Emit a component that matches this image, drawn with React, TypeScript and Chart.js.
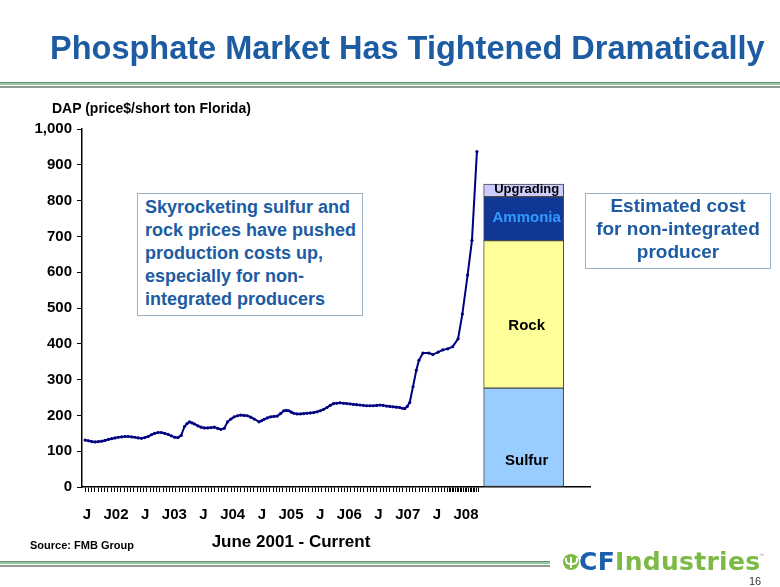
import React, { useEffect, useRef } from "react";
import { Chart, registerables } from "chart.js";

Chart.register(...registerables);

// ---- data ----
// months after July 2001 (J = July, J0x = January of year 200x)
const priceMonths = [
  -0.35, 0.34, 1.02, 1.7, 2.38, 3.06, 3.74, 4.43, 5.11, 5.79,
  6.47, 7.15, 7.83, 8.51, 9.2, 9.88, 10.56, 11.24, 11.92, 12.6,
  13.28, 13.96, 14.64, 15.32, 16.01, 16.69, 17.37, 18.05, 18.73, 19.41,
  20.09, 20.6, 21.11, 21.62, 22.14, 22.82, 23.5, 24.18, 24.86, 25.54,
  26.22, 26.9, 27.58, 28.27, 28.95, 29.63, 30.31, 30.99, 31.67, 32.35,
  33.03, 33.71, 34.4, 35.42, 35.93, 36.44, 37.12, 37.8, 38.48, 39.16,
  39.84, 40.53, 41.04, 41.55, 42.06, 42.57, 43.25, 43.93, 44.61, 45.29,
  45.97, 46.66, 47.34, 48.02, 48.7, 49.38, 50.06, 50.74, 51.42, 52.1,
  52.78, 53.47, 54.15, 54.83, 55.51, 56.19, 56.87, 57.55, 58.23, 58.92,
  59.6, 60.28, 60.96, 61.64, 62.32, 63.0, 63.68, 64.36, 64.88, 65.39,
  65.9, 66.41, 67.09, 67.77, 68.31, 69.13, 70.35, 71.17, 72.27, 73.21,
  74.23, 75.25, 76.36, 77.24, 78.32, 79.22, 80.24,
];

const dapPrice = [
  131, 129, 127, 126, 127, 128, 130, 133, 135, 137,
  139, 140, 141, 141, 140, 139, 137, 136, 138, 141,
  146, 150, 152, 152, 150, 147, 143, 139, 138, 144,
  169, 177, 182, 179, 176, 171, 167, 165, 165, 166,
  167, 164, 161, 164, 182, 190, 196, 199, 201, 200,
  199, 195, 190, 182, 185, 189, 193, 196, 197, 198,
  205, 213, 214, 213, 209, 206, 204, 204, 205, 206,
  207, 208, 210, 213, 217, 222, 228, 233, 234, 235,
  234, 233, 232, 231, 230, 229, 228, 227, 227, 227,
  228, 229, 228, 226, 225, 224, 223, 222, 220, 219,
  225, 236, 280, 326, 354, 374, 374, 370, 377, 383,
  386, 392, 414, 483, 592, 689, 937,
];

const xLabelMonths = [0, 6, 12, 18, 24, 30, 36, 42, 48, 54, 60, 66, 72, 78];
const xLabels = ["J", "J02", "J", "J03", "J", "J04", "J", "J05", "J", "J06", "J", "J07", "J", "J08"];

const yTickValues = [0, 100, 200, 300, 400, 500, 600, 700, 800, 900, 1000];

const costCategories = ["Sulfur", "Rock", "Ammonia", "Upgrading"];
const costValues = [276, 412, 123, 35];
const estimateMonth = 89.85; // x slot of the "estimated cost" bar

// ---- styles ----
const costColors = ["#99CCFF", "#FFFF99", "#0F3896", "#CCCCFF"];
const costLabelColors = ["#000000", "#000000", "#3399FF", "#000000"];
const costLabelSizes = [15, 15, 15, 13];
const costLabelFrac = [0.26, 0.42, 0.52, 0.55];

const FONT = "'Liberation Sans', Arial, sans-serif";
const BLUE = "#1D5CA2";

const barLabelPlugin = {
  id: "barLabels",
  afterDatasetsDraw(chart: any) {
    const ctx = chart.ctx;
    chart.data.datasets.forEach((ds: any, i: number) => {
      if (ds.type !== "bar") return;
      const meta = chart.getDatasetMeta(i);
      const el: any = meta.data[0];
      if (!el) return;
      const k = ds.costIndex;
      const y = el.base + (el.y - el.base) * costLabelFrac[k];
      ctx.save();
      ctx.font = `bold ${costLabelSizes[k]}px ${FONT}`;
      ctx.fillStyle = costLabelColors[k];
      ctx.textAlign = "center";
      ctx.textBaseline = "middle";
      ctx.fillText(ds.label, el.x + 3, y);
      ctx.restore();
    });
  },
};

function ChartCanvas() {
  const ref = useRef<HTMLCanvasElement | null>(null);
  useEffect(() => {
    if (!ref.current) return;
    let acc = 0;
    const barSets = costValues.map((v, k) => {
      const start = acc;
      acc += v;
      return {
        type: "bar" as const,
        label: costCategories[k],
        costIndex: k,
        data: [{ x: estimateMonth, y: [start, acc] }],
        backgroundColor: costColors[k],
        borderColor: "#4a4a4a",
        borderWidth: 1,
        borderSkipped: false,
        barThickness: 80,
        grouped: false,
      };
    });
    const tickVals: number[] = [];
    for (let k = 0; k * (2 / 3) <= 74.01; k++) tickVals.push(k * (2 / 3));
    for (let v = 74 + 1 / 3; v <= 80.4; v += 1 / 3) tickVals.push(v);

    const chart = new Chart(ref.current, {
      type: "line",
      data: {
        datasets: [
          {
            type: "line",
            label: "DAP",
            data: priceMonths.map((m, i) => ({ x: m, y: dapPrice[i] })),
            borderColor: "#000080",
            borderWidth: 2,
            pointRadius: 1.6,
            pointBorderWidth: 0,
            pointBackgroundColor: "#000080",
            tension: 0,
          } as any,
          ...(barSets as any[]),
        ],
      },
      options: {
        responsive: false,
        animation: false,
        events: [],
        layout: { padding: { left: 0, top: 129, right: 190, bottom: 60 } },
        plugins: { legend: { display: false }, tooltip: { enabled: false } },
        scales: {
          x: {
            type: "linear",
            min: -0.6,
            max: 103.1,
            afterBuildTicks: (s: any) => {
              s.ticks = tickVals.map((v) => ({ value: v }));
            },
            afterFit: (s: any) => {
              s.height = 40;
            },
            grid: {
              drawOnChartArea: false,
              drawTicks: true,
              tickLength: 5,
              color: "#000",
              tickColor: "#000",
              lineWidth: 1,
            },
            border: { color: "#000", width: 1.5 },
            ticks: {
              autoSkip: false,
              maxRotation: 0,
              minRotation: 0,
              padding: 14,
              color: "#000",
              font: { family: FONT, size: 15, weight: "bold" },
              callback: (value: any) => {
                const idx = xLabelMonths.findIndex((m) => Math.abs(m - Number(value)) < 0.01);
                return idx >= 0 ? xLabels[idx] : "";
              },
            },
          },
          y: {
            type: "linear",
            min: 0,
            max: 1000,
            afterBuildTicks: (s: any) => {
              s.ticks = yTickValues.map((v) => ({ value: v }));
            },
            afterFit: (s: any) => {
              s.width = 82;
            },
            grid: {
              drawOnChartArea: false,
              drawTicks: true,
              tickLength: 5,
              color: "#000",
              tickColor: "#000",
            },
            border: { color: "#000", width: 1.5 },
            ticks: {
              padding: 5,
              color: "#000",
              font: { family: FONT, size: 15, weight: "bold" },
              callback: (value: any) => Number(value).toLocaleString("en-US"),
            },
          },
        },
      } as any,
      plugins: [barLabelPlugin],
    });
    return () => chart.destroy();
  }, []);
  return (
    <canvas
      ref={ref}
      width={780}
      height={587}
      style={{ position: "absolute", left: 0, top: 0, width: 780, height: 587 }}
    />
  );
}

function Txt(props: {
  x: number;
  base: number;
  size: number;
  text: string;
  color?: string;
  weight?: string;
  align?: "left" | "center";
  width?: number;
  family?: string;
}) {
  const { x, base, size, text, color = "#000", weight = "bold", align = "left", width, family = FONT } = props;
  const top = base - 0.8465 * size;
  const style: React.CSSProperties = {
    position: "absolute",
    top,
    fontFamily: family,
    fontSize: size,
    fontWeight: weight as any,
    lineHeight: 1,
    color,
    whiteSpace: "nowrap",
  };
  if (align === "center") {
    style.left = x - (width || 400) / 2;
    style.width = width || 400;
    style.textAlign = "center";
  } else {
    style.left = x;
  }
  return <div style={style}>{text}</div>;
}

const box1Lines = [
  "Skyrocketing sulfur and",
  "rock prices have pushed",
  "production costs up,",
  "especially for non-",
  "integrated producers",
];
const box2Lines = ["Estimated cost", "for non-integrated", "producer"];

function Rule(props: { top: number; width: number }) {
  const { top, width } = props;
  return (
    <>
      <div style={{ position: "absolute", left: 0, top, width, height: 1, background: "#6E8E78" }} />
      <div style={{ position: "absolute", left: 0, top: top + 1, width, height: 2, background: "#93C9A0" }} />
      <div style={{ position: "absolute", left: 0, top: top + 4, width, height: 2, background: "#8E9E94" }} />
    </>
  );
}

export default function App() {
  return (
    <div
      style={{
        position: "fixed",
        left: 0,
        top: 0,
        width: 780,
        height: 587,
        background: "#fff",
        overflow: "hidden",
      }}
    >
      <ChartCanvas />
      {/* title */}
      <Txt x={50} base={60} size={32.5} text="Phosphate Market Has Tightened Dramatically" color={BLUE} />
      <Rule top={82} width={780} />
      {/* y axis caption */}
      <Txt x={52} base={113} size={14} text="DAP (price$/short ton Florida)" />
      {/* box 1 */}
      <div
        style={{
          position: "absolute",
          left: 137,
          top: 193,
          width: 224,
          height: 121,
          border: "1px solid #9DB2C6",
          background: "#fff",
        }}
      />
      {box1Lines.map((t, i) => (
        <Txt key={t} x={145} base={213 + i * 23} size={18} text={t} color={BLUE} />
      ))}
      {/* box 2 */}
      <div
        style={{
          position: "absolute",
          left: 585,
          top: 193,
          width: 184,
          height: 74,
          border: "1px solid #9DB2C6",
          background: "#fff",
        }}
      />
      {box2Lines.map((t, i) => (
        <Txt key={t} x={678} base={212 + i * 23} size={19} text={t} color={BLUE} align="center" width={200} />
      ))}
      {/* x axis caption & source */}
      <Txt x={291} base={547} size={17} text="June 2001 - Current" align="center" />
      <Txt x={30} base={549} size={11} text="Source: FMB Group" />
      <Rule top={561} width={550} />
      {/* logo */}
      <div
        style={{
          position: "absolute",
          left: 563,
          top: 554,
          width: 16,
          height: 16,
          borderRadius: 8,
          background: "#7DBA45",
        }}
      >
        <div style={{ position: "absolute", left: 7, top: 3, width: 2, height: 11, background: "#fff" }} />
        <div
          style={{
            position: "absolute",
            left: 2,
            top: 4,
            width: 4,
            height: 5,
            borderRadius: "0 0 0 5px",
            border: "2px solid #fff",
            borderTop: "none",
            borderRight: "none",
          }}
        />
        <div
          style={{
            position: "absolute",
            left: 9,
            top: 4,
            width: 4,
            height: 5,
            borderRadius: "0 0 5px 0",
            border: "2px solid #fff",
            borderTop: "none",
            borderLeft: "none",
          }}
        />
      </div>
      <div
        style={{
          position: "absolute",
          left: 579,
          top: 570 - 0.8465 * 25,
          fontFamily: "'DejaVu Sans', sans-serif",
          fontSize: 25,
          fontWeight: "bold",
          lineHeight: 1,
          whiteSpace: "nowrap",
          letterSpacing: 0.3,
        }}
      >
        <span style={{ color: "#1A5FAE" }}>CF</span>
        <span style={{ color: "#7DBA45" }}>Industries</span>
      </div>
      <Txt x={759} base={557} size={5} text="™" color="#999" weight="normal" />
      <Txt x={749} base={585} size={11} text="16" color="#333" weight="normal" />
    </div>
  );
}
